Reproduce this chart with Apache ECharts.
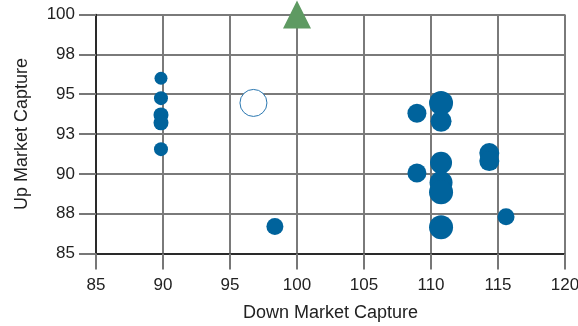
<!DOCTYPE html>
<html>
<head>
<meta charset="utf-8">
<script src="https://cdn.jsdelivr.net/npm/echarts@6/dist/echarts.min.js"></script>
<style>html,body{margin:0;padding:0;background:#fff}#c{width:578px;height:326px}</style>
</head>
<body>
<div id="c"></div>
<script>
// Fund points: down capture, up capture, bubble weight
const downCapture = [89.85, 89.85, 89.85, 89.85, 89.85, 98.35, 108.95, 110.75, 110.75, 114.35, 114.35, 110.75, 108.95, 110.75, 110.75, 115.6, 110.75];
const upCapture   = [96.0, 94.75, 93.7, 93.2, 91.55, 86.7, 93.8, 94.45, 93.3, 91.3, 90.8, 90.7, 90.05, 89.45, 88.85, 87.3, 86.65];
const weights     = [13, 14, 15, 15, 14, 17, 19, 24, 21, 20, 20, 22, 19, 23, 24, 17, 24];
// Highlighted fund (open circle) and benchmark (triangle)
const highlight = [96.75, 94.45, 27];
const benchmark = [100, 100];
const xTitle = 'Down Market Capture';
const yTitle = 'Up Market Capture';

const pts = downCapture.map((x, i) => [x, upCapture[i], weights[i]]);
const font = 'Liberation Sans, Arial, sans-serif';
const chart = echarts.init(document.getElementById('c'));
chart.setOption({
  animation: false,
  grid: {left: 96, right: 13, top: 14.5, bottom: 72.5, outerBoundsMode: 'none', containLabel: false},
  xAxis: {
    type: 'value', min: 85, max: 120, interval: 5,
    name: xTitle, nameLocation: 'middle', nameGap: 51,
    nameTextStyle: {fontFamily: font, fontSize: 18, color: '#222'},
    axisLine: {show: true, lineStyle: {color: '#111', width: 1.5}},
    axisTick: {show: true, length: 16, lineStyle: {color: '#777', width: 2}},
    axisLabel: {fontFamily: font, fontSize: 17, color: '#222', margin: 23},
    splitLine: {show: true, lineStyle: {color: '#7a7a7a', width: 2}}
  },
  yAxis: {
    type: 'value', min: 85, max: 100, interval: 2.5,
    name: yTitle, nameLocation: 'middle', nameGap: 65,
    nameTextStyle: {fontFamily: font, fontSize: 18, color: '#222'},
    axisLine: {show: true, lineStyle: {color: '#111', width: 1.5}},
    axisTick: {show: true, length: 17, lineStyle: {color: '#777', width: 2}},
    axisLabel: {fontFamily: font, fontSize: 17, color: '#222', margin: 21,
      formatter: v => String(Math.round(v))},
    splitLine: {show: true, lineStyle: {color: '#7a7a7a', width: 2}}
  },
  series: [
    {type: 'scatter', data: pts, symbol: 'circle',
      symbolSize: d => d[2], itemStyle: {color: '#00639c', opacity: 1}},
    {type: 'scatter', data: [highlight], symbol: 'circle',
      symbolSize: d => d[2], itemStyle: {color: '#fff', borderColor: '#2a77b0', borderWidth: 1, opacity: 1}},
    {type: 'scatter', data: [benchmark], symbol: 'triangle', symbolSize: [28, 28],
      clip: false, itemStyle: {color: '#5e9a62', opacity: 1}}
  ]
});
</script>
</body>
</html>
